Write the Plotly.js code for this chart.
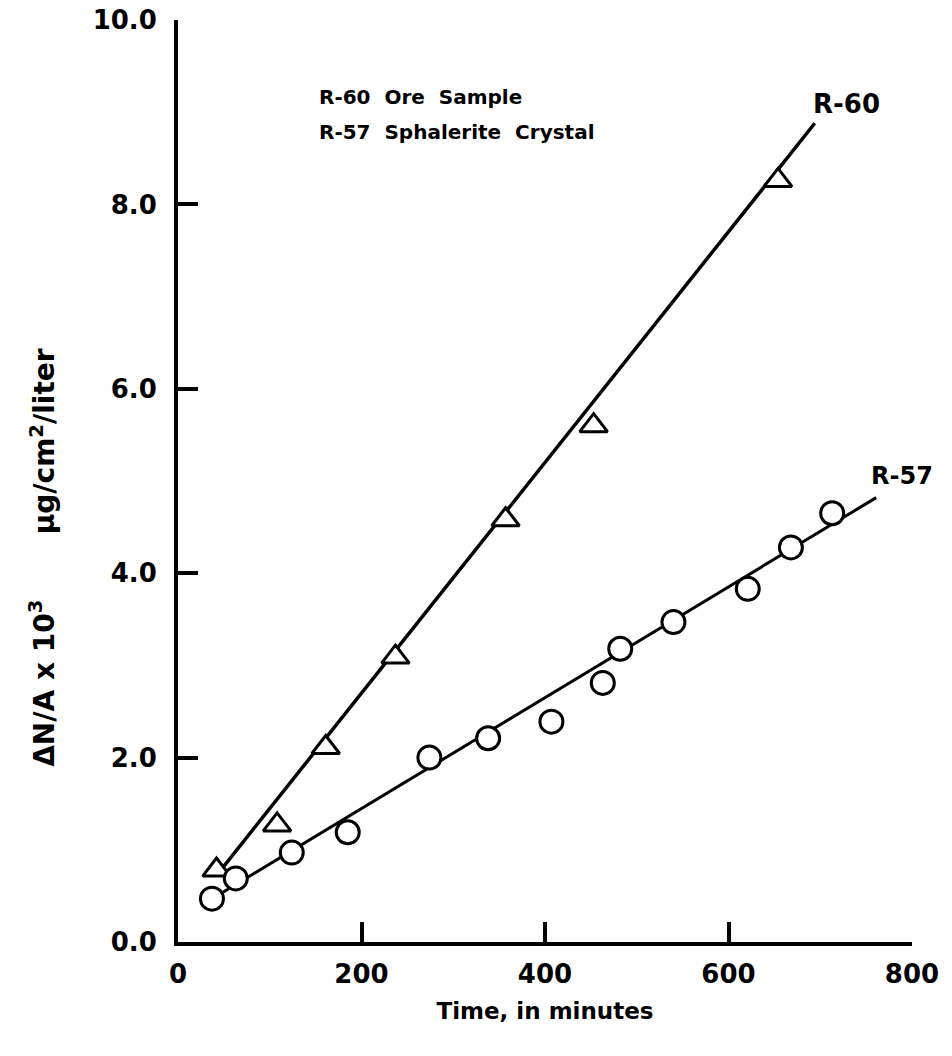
<!DOCTYPE html>
<html>
<head>
<meta charset="utf-8">
<script src="https://cdn.plot.ly/plotly-3.0.1.min.js"></script>
<style>
  html, body { margin: 0; padding: 0; background: #ffffff; }
  #chart { width: 952px; height: 1056px; }
</style>
</head>
<body>
<div id="chart"></div>
<script>
// R-60 Ore Sample (triangles)
const r60Time = [42, 108, 161, 237, 357, 453, 654];
const r60Value = [0.78, 1.27, 2.11, 3.09, 4.58, 5.60, 8.26];
// R-60 fitted line end points
const r60LineTime = [49, 694];
const r60LineValue = [0.81, 8.88];

// R-57 Sphalerite Crystal (circles)
const r57Time = [37, 63, 124, 185, 274, 338, 407, 463, 482, 540, 621, 668, 713];
const r57Value = [0.47, 0.69, 0.97, 1.19, 2.00, 2.21, 2.39, 2.81, 3.18, 3.47, 3.83, 4.28, 4.65];
// R-57 fitted line end points
const r57LineTime = [49, 761];
const r57LineValue = [0.54, 4.82];

const xTickVals = [0, 200, 400, 600, 800];
const xTickText = ['0', '200', '400', '600', '800'];
const yTickVals = [0, 2, 4, 6, 8, 10];
const yTickText = ['0.0', '2.0', '4.0', '6.0', '8.0', '10.0'];

const FONT = '"DejaVu Sans", "Liberation Sans", sans-serif';

const traces = [
  { x: r60LineTime, y: r60LineValue, mode: 'lines', line: { color: '#000', width: 3.5 }, hoverinfo: 'skip', showlegend: false },
  { x: r57LineTime, y: r57LineValue, mode: 'lines', line: { color: '#000', width: 3 }, hoverinfo: 'skip', showlegend: false },
  { x: r60Time, y: r60Value, mode: 'markers', name: 'R-60',
    marker: { symbol: 'triangle-up', size: 24, color: '#fff', line: { color: '#000', width: 3 } }, showlegend: false },
  { x: r57Time, y: r57Value, mode: 'markers', name: 'R-57',
    marker: { symbol: 'circle', size: 23, color: '#fff', line: { color: '#000', width: 3 } }, showlegend: false }
];

const layout = {
  width: 952, height: 1056,
  margin: { l: 178, r: 40, t: 20, b: 114 },
  paper_bgcolor: '#fff', plot_bgcolor: '#fff',
  font: { family: FONT, color: '#000' },
  showlegend: false,
  xaxis: {
    range: [0, 800], tickvals: xTickVals, ticktext: xTickText,
    ticks: 'inside', ticklen: 20, tickwidth: 4, tickcolor: '#000',
    showline: true, linewidth: 4, linecolor: '#000', showgrid: false, zeroline: false,
    tickfont: { family: FONT, size: 26, color: '#000', weight: 'bold' }, ticklabelstandoff: 6,
    title: { text: '<b>Time, in minutes</b>', font: { family: FONT, size: 23, color: '#000' }, standoff: 16 }
  },
  yaxis: {
    range: [0, 10], tickvals: yTickVals, ticktext: yTickText,
    ticks: 'inside', ticklen: 20, tickwidth: 4, tickcolor: '#000',
    showline: true, linewidth: 4, linecolor: '#000', showgrid: false, zeroline: false,
    tickfont: { family: FONT, size: 26, color: '#000', weight: 'bold' }, ticklabelstandoff: 12
  },
  annotations: [
    { xref: 'paper', yref: 'paper', x: -0.184, y: 0.281, xanchor: 'center', yanchor: 'middle',
      textangle: -90, showarrow: false,
      text: '<b>ΔN/A x 10<sup>3</sup></b>', font: { family: FONT, size: 28, color: '#000' } },
    { xref: 'paper', yref: 'paper', x: -0.184, y: 0.543, xanchor: 'center', yanchor: 'middle',
      textangle: -90, showarrow: false,
      text: '<b>μg/cm<sup>2</sup>/liter</b>', font: { family: FONT, size: 28, color: '#000' } },
    { xref: 'x', yref: 'y', x: 152, y: 9.16, xanchor: 'left', yanchor: 'middle', showarrow: false,
      text: '<b>R-60  Ore  Sample</b>', font: { family: FONT, size: 20, color: '#000' } },
    { xref: 'x', yref: 'y', x: 152, y: 8.78, xanchor: 'left', yanchor: 'middle', showarrow: false,
      text: '<b>R-57  Sphalerite  Crystal</b>', font: { family: FONT, size: 20, color: '#000' } },
    { xref: 'x', yref: 'y', x: 729, y: 9.09, xanchor: 'center', yanchor: 'middle', showarrow: false,
      text: '<b>R-60</b>', font: { family: FONT, size: 26, color: '#000' } },
    { xref: 'x', yref: 'y', x: 789, y: 5.05, xanchor: 'center', yanchor: 'middle', showarrow: false,
      text: '<b>R-57</b>', font: { family: FONT, size: 24, color: '#000' } }
  ]
};

Plotly.newPlot('chart', traces, layout, { staticPlot: true, displayModeBar: false });
</script>
</body>
</html>
